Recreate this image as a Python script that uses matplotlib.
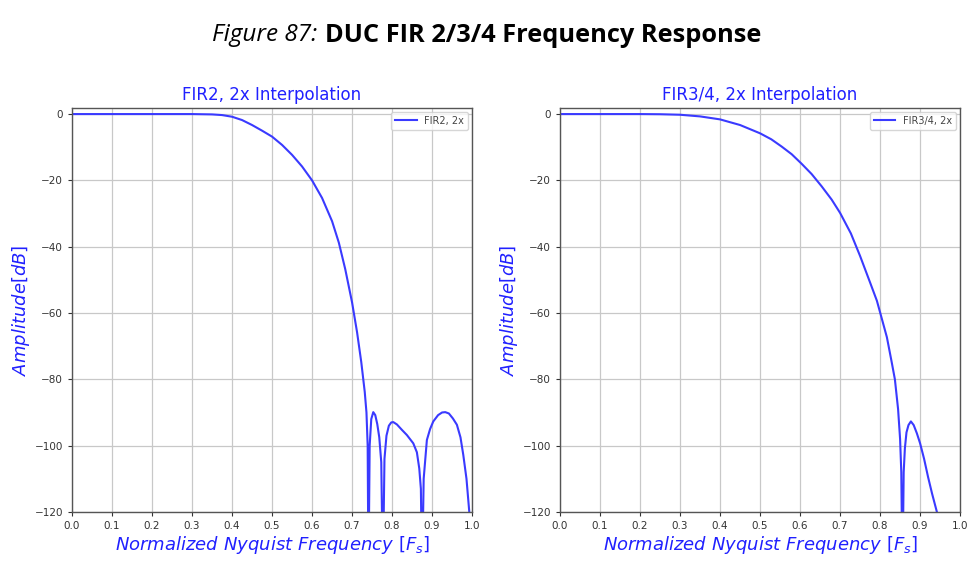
import numpy as np
import matplotlib
matplotlib.use('Agg')
import matplotlib.pyplot as plt

# FIR2, 2x interpolation
fir2_f = [0.0, 0.1, 0.2, 0.3, 0.35, 0.375, 0.4, 0.425, 0.45, 0.475, 0.5, 0.525,
          0.55, 0.575, 0.6, 0.625, 0.65, 0.667, 0.683, 0.7, 0.7125, 0.723,
          0.7317, 0.736, 0.739, 0.741, 0.744, 0.748, 0.753, 0.758, 0.763,
          0.768, 0.773, 0.777, 0.781, 0.786, 0.792, 0.798, 0.803, 0.812,
          0.825, 0.837, 0.853, 0.862, 0.868, 0.872, 0.875, 0.879, 0.887,
          0.895, 0.903, 0.915, 0.925, 0.933, 0.942, 0.952, 0.962, 0.971,
          0.978, 0.986, 0.993, 0.997]
fir2_db = [0.0, 0.0, 0.0, 0.0, -0.1, -0.3, -0.8, -1.8, -3.3, -5.0, -6.8, -9.3,
           -12.3, -15.8, -20.0, -25.3, -32.3, -38.8, -46.8, -56.8, -65.8, -74.8,
           -83.8, -90.0, -100.0, -140.0, -100.0, -92.0, -89.9, -90.8, -93.5,
           -97.5, -105.0, -140.0, -104.0, -97.0, -94.0, -93.0, -92.9, -93.6,
           -95.3, -96.8, -99.3, -102.0, -106.9, -113.0, -140.0, -110.0, -98.3,
           -95.0, -92.7, -90.8, -90.0, -89.9, -90.3, -91.8, -93.7, -97.5,
           -102.8, -110.0, -120.0, -128.0]

# FIR3/4, 2x interpolation
fir34_f = [0.0, 0.1, 0.2, 0.25, 0.3, 0.35, 0.4, 0.45, 0.5, 0.528, 0.554, 0.579,
           0.604, 0.629, 0.654, 0.679, 0.7, 0.727, 0.75, 0.775, 0.792, 0.8,
           0.817, 0.829, 0.837, 0.845, 0.850, 0.853, 0.856, 0.859, 0.862,
           0.866, 0.871, 0.877, 0.884, 0.892, 0.9, 0.91, 0.92, 0.93, 0.942,
           0.946]
fir34_db = [0.0, 0.0, 0.0, -0.05, -0.2, -0.7, -1.6, -3.3, -5.8, -7.6, -9.8, -12.1,
            -15.0, -18.1, -21.8, -25.8, -29.8, -36.0, -42.8, -50.8, -56.3, -59.8,
            -67.3, -74.8, -80.0, -89.0, -98.0, -108.0, -140.0, -108.0, -100.8,
            -96.0, -93.8, -92.7, -93.8, -96.3, -99.3, -104.0, -109.5, -114.5,
            -120.0, -124.0]

xticks = np.round(np.arange(0, 1.01, 0.1), 1)
yticks = [0, -20, -40, -60, -80, -100, -120]

panels = [
    (fir2_f, fir2_db, 'FIR2, 2x', 'FIR2, 2x Interpolation'),
    (fir34_f, fir34_db, 'FIR3/4, 2x', 'FIR3/4, 2x Interpolation'),
]

fig = plt.figure(figsize=(9.77, 5.72), dpi=100)
lefts = [0.0737, 0.5732]
line_col = '#3a3aff'
lab_col = '#2020ff'

for (f, db, lab, ttl), x0 in zip(panels, lefts):
    ax = fig.add_axes([x0, 0.105, 0.4095, 0.706])
    ax.plot(f, db, color=line_col, lw=1.5, label=lab)
    ax.set_xlim(0, 1.0)
    ax.set_ylim(-120, 1.8)
    ax.set_xticks(xticks)
    ax.set_xticklabels(['{:.1f}'.format(v) for v in xticks])
    ax.set_yticks(yticks)
    ax.tick_params(labelsize=7.5, colors='#333333', length=3)
    ax.grid(True, color='#c8c8c8', lw=0.9)
    for s in ax.spines.values():
        s.set_color('#555555')
        s.set_linewidth(1.0)
    ax.set_title(ttl, color=lab_col, fontsize=12, pad=5.5)
    ax.set_xlabel(r'$Normalized\ Nyquist\ Frequency\ [F_s]$', color=lab_col, fontsize=13, labelpad=2)
    ax.set_ylabel(r'$Amplitude[dB]$', color=lab_col, fontsize=13, labelpad=2)
    leg = ax.legend(loc='upper right', fontsize=7, handlelength=2.2, framealpha=0.8,
                    borderaxespad=0.4)
    for t in leg.get_texts():
        t.set_color('#444444')

# figure caption: italic prefix + bold text
t1 = fig.text(0.217, 0.938, 'Figure 87:', fontsize=17.5, style='italic',
              family='Open Sans', va='center', ha='left')
fig.canvas.draw()
bb = t1.get_window_extent(renderer=fig.canvas.get_renderer())
x_next = (bb.x1 + 8) / fig.bbox.width
fig.text(x_next, 0.938, 'DUC FIR 2/3/4 Frequency Response', fontsize=18.3,
         weight='bold', family='Open Sans', va='center', ha='left')

fig.savefig('out.png', dpi=100)
